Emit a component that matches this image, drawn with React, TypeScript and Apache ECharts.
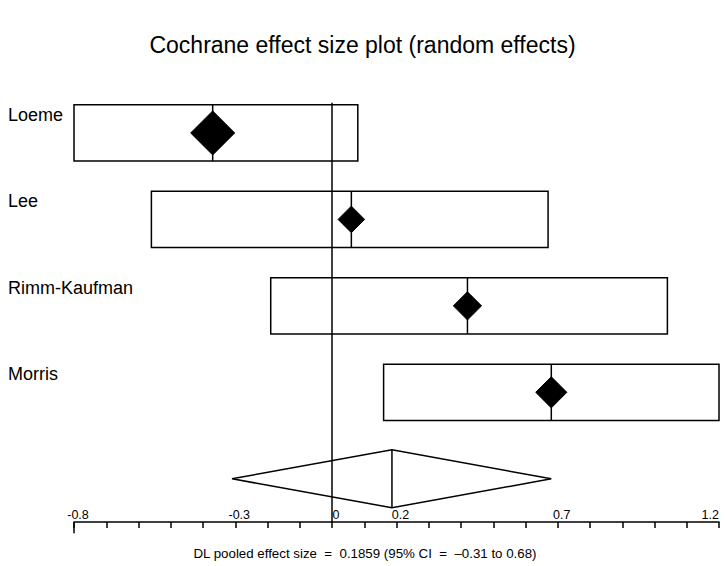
import React, { useEffect, useRef } from "react";
import * as echarts from "echarts";

// ---- data ----
const studies = ["Loeme", "Lee", "Rimm-Kaufman", "Morris"];
const lowerCI = [-0.8, -0.56, -0.19, 0.16];
const effect = [-0.37, 0.06, 0.42, 0.68];
const upperCI = [0.08, 0.67, 1.04, 1.2];
const weights = [44, 16, 18, 22];
const pooled = { lower: -0.31, estimate: 0.1859, upper: 0.68 };
const tickValues = [
  -0.8, -0.7, -0.6, -0.5, -0.4, -0.3, -0.2, -0.1, 0, 0.1, 0.2, 0.3, 0.4, 0.5,
  0.6, 0.7, 0.8, 0.9, 1.0, 1.1, 1.2,
];
const labelValues = [-0.8, -0.3, 0, 0.2, 0.7, 1.2];
const titleText = "Cochrane effect size plot (random effects)";
const footText = "DL pooled effect size  =  0.1859 (95% CI  =  \u20130.31 to 0.68)";

const FONT = "'Liberation Sans', Arial, Helvetica, sans-serif";

export default function App() {
  const ref = useRef<HTMLDivElement>(null);

  useEffect(() => {
    if (!ref.current) return;
    const chart = echarts.init(ref.current, undefined, { renderer: "svg" });

    const studyData = studies.map((name, i) => [
      lowerCI[i],
      effect[i],
      upperCI[i],
      i + 1,
      weights[i],
    ]);
    const pooledRow = studies.length + 1;
    const axisMin = tickValues[0];
    const axisMax = tickValues[tickValues.length - 1];

    const option = {
      animation: false,
      backgroundColor: "#ffffff",
      grid: {
        left: 74,
        right: 6,
        top: 46.5,
        bottom: 44,
        containLabel: false,
        outerBoundsMode: "none",
      },
      xAxis: {
        type: "value",
        min: axisMin,
        max: axisMax,
        interval: 0.1,
        splitLine: { show: false },
        axisLine: { show: true, onZero: false, lineStyle: { color: "#000", width: 1.5 } },
        axisTick: {
          show: true,
          inside: false,
          length: 6,
          customValues: tickValues,
          lineStyle: { color: "#000", width: 1.5 },
        },
        axisLabel: {
          show: true,
          inside: true,
          margin: 1,
          customValues: labelValues,
          alignMaxLabel: "right",
          color: "#000",
          fontFamily: FONT,
          fontSize: 12.5,
          padding: [0, 0, 0, 8],
        },
      },
      yAxis: {
        type: "value",
        min: 0,
        max: 5.5,
        inverse: true,
        show: false,
      },
      series: [
        {
          // zero (no effect) reference line
          type: "line",
          data: [
            [0, 0.65],
            [0, 5.5],
          ],
          symbol: "none",
          lineStyle: { color: "#000", width: 1.5 },
          silent: true,
        },
        {
          // longer end tick at the axis start
          type: "line",
          clip: false,
          data: [
            [axisMin, 5.5],
            [axisMin, 5.63],
          ],
          symbol: "none",
          lineStyle: { color: "#000", width: 1.5 },
          silent: true,
        },
        {
          type: "custom",
          data: studyData,
          renderItem: (params: any, api: any) => {
            const lo = api.value(0);
            const est = api.value(1);
            const hi = api.value(2);
            const row = api.value(3);
            const w = api.value(4);
            const pLo = api.coord([lo, row]);
            const pEst = api.coord([est, row]);
            const pHi = api.coord([hi, row]);
            const hh = api.size([0, 0.65])[1] / 2;
            const s = Math.sqrt(w) * 3.32;
            const cx = pEst[0];
            const cy = pEst[1];
            return {
              type: "group",
              children: [
                {
                  type: "rect",
                  shape: { x: pLo[0], y: cy - hh, width: pHi[0] - pLo[0], height: hh * 2 },
                  style: { fill: "none", stroke: "#000", lineWidth: 1.5 },
                },
                {
                  type: "line",
                  shape: { x1: cx, y1: cy - hh, x2: cx, y2: cy + hh },
                  style: { stroke: "#000", lineWidth: 1.5 },
                },
                {
                  type: "polygon",
                  shape: {
                    points: [
                      [cx - s, cy],
                      [cx, cy - s],
                      [cx + s, cy],
                      [cx, cy + s],
                    ],
                  },
                  style: { fill: "#000", stroke: "#000", lineWidth: 1 },
                },
                {
                  type: "text",
                  x: 8,
                  y: cy - 18,
                  style: {
                    text: studies[params.dataIndex],
                    fill: "#000",
                    font: `18px ${FONT}`,
                    textAlign: "left",
                    textVerticalAlign: "middle",
                  },
                },
              ],
            };
          },
        },
        {
          type: "custom",
          data: [[pooled.lower, pooled.estimate, pooled.upper, pooledRow]],
          renderItem: (params: any, api: any) => {
            const row = api.value(3);
            const pLo = api.coord([api.value(0), row]);
            const pEst = api.coord([api.value(1), row]);
            const pHi = api.coord([api.value(2), row]);
            const hh = api.size([0, 0.67])[1] / 2;
            const cx = pEst[0];
            const cy = pEst[1];
            return {
              type: "group",
              children: [
                {
                  type: "polygon",
                  shape: {
                    points: [
                      [pLo[0], cy],
                      [cx, cy - hh],
                      [pHi[0], cy],
                      [cx, cy + hh],
                    ],
                  },
                  style: { fill: "none", stroke: "#000", lineWidth: 1.5 },
                },
                {
                  type: "line",
                  shape: { x1: cx, y1: cy - hh, x2: cx, y2: cy + hh },
                  style: { stroke: "#000", lineWidth: 1.5 },
                },
              ],
            };
          },
        },
      ],
      graphic: [
        {
          type: "text",
          x: 362.5,
          y: 45,
          style: {
            text: titleText,
            fill: "#000",
            font: `23px ${FONT}`,
            textAlign: "center",
            textVerticalAlign: "middle",
          },
        },
        {
          type: "text",
          x: 365,
          y: 553,
          style: {
            text: footText,
            fill: "#000",
            font: `13.3px ${FONT}`,
            textAlign: "center",
            textVerticalAlign: "middle",
          },
        },
      ],
    };

    chart.setOption(option as any);
    return () => {
      chart.dispose();
    };
  }, []);

  return (
    <div
      ref={ref}
      style={{ position: "absolute", left: 0, top: 0, width: 725, height: 566 }}
    />
  );
}
